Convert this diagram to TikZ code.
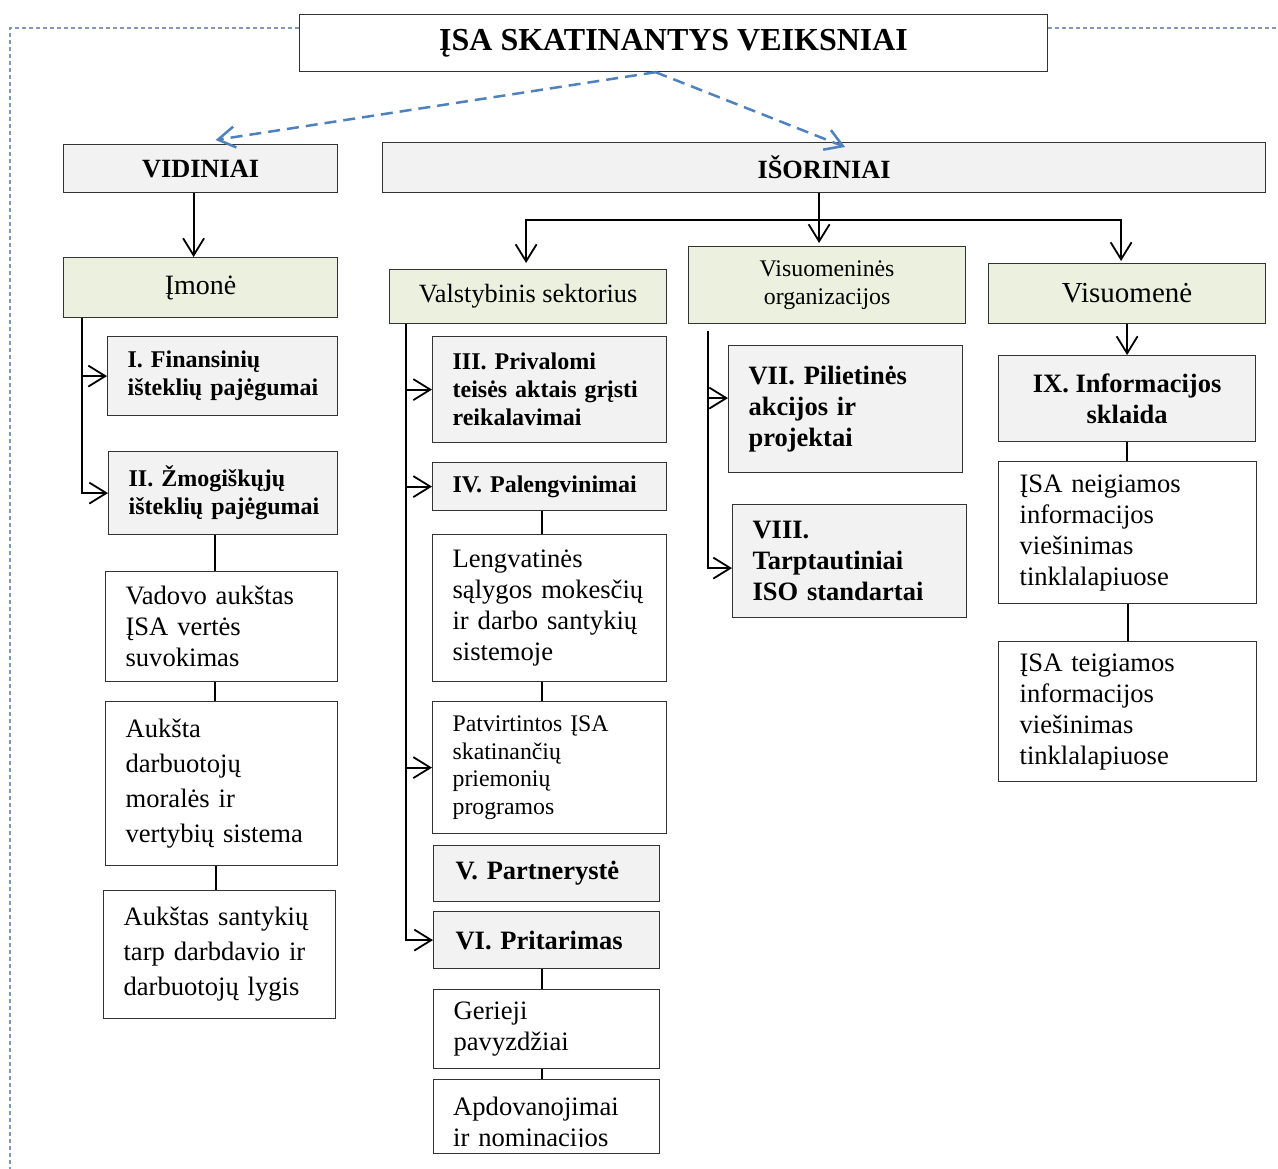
\documentclass[tikz,border=0pt]{standalone}
\usepackage{fontspec}
\setmainfont{Liberation Serif}
\usetikzlibrary{arrows.meta}

\definecolor{boxgrey}{HTML}{F2F2F2}
\definecolor{boxgreen}{HTML}{EBF1DE}
\definecolor{arrblue}{HTML}{4F81BD}
\definecolor{framecol}{HTML}{8497B9}

\hyphenpenalty=10000
\exhyphenpenalty=10000

\newcommand\titletxt{\fontsize{32pt}{36pt}\selectfont\bfseries}
\newcommand\headbold{\fontsize{26.3pt}{30pt}\selectfont\bfseries}
\newcommand\headreg{\fontsize{26.3pt}{30pt}\selectfont}
\newcommand\regtxt{\fontsize{26.6pt}{31pt}\selectfont}
\newcommand\regwide{\fontsize{26.6pt}{35pt}\selectfont}
\newcommand\regsmall{\fontsize{23.8pt}{27.5pt}\selectfont}
\newcommand\boldtxt{\fontsize{26.5pt}{31pt}\selectfont\bfseries}
\newcommand\boldsmall{\fontsize{24pt}{28pt}\selectfont\bfseries}

\tikzset{
box/.style={draw=black!80, line width=1.2pt, anchor=north west, inner ysep=0pt},
greybox/.style={box, fill=boxgrey},
greenbox/.style={box, fill=boxgreen},
whitebox/.style={box, fill=white},
lbox/.style={align=left, inner xsep=20pt},
cbox/.style={align=center, inner xsep=0pt},
link/.style={line width=1.8pt},
arr/.style={link, -{Straight Barb[length=17pt,width=21pt]}},
bluearr/.style={draw=arrblue, line width=2.5pt, dash pattern=on 12pt off 7pt,
  -{Straight Barb[length=17pt,width=21pt]}},
frame/.style={draw=framecol, line width=1.3pt, dash pattern=on 4pt off 3pt}}

\begin{document}
\begin{tikzpicture}[x=1pt,y=-1pt]
\useasboundingbox (0,0) rectangle (1278,1169);

% title and the two groups
\node[whitebox, cbox, minimum width=748pt, minimum height=57pt, font=\titletxt] (ttl) at (299,14) {ĮSA SKATINANTYS VEIKSNIAI};
\node[greybox, cbox, minimum width=274pt, minimum height=48pt, font=\headbold] (vid) at (63,144) {VIDINIAI};
\node[greybox, cbox, minimum width=883pt, minimum height=50pt, font=\headbold] (isor) at (382,142) {IŠORINIAI};

% vidiniai
\node[greenbox, cbox, minimum width=274pt, minimum height=60pt, font=\fontsize{28pt}{32pt}\selectfont] (imo) at (63,257) {Įmonė};
\node[greybox, lbox, text width=190pt, minimum height=79pt, font=\boldsmall] (fin) at (107,336) {I.~Finansinių\\išteklių~pajėgumai};
\node[greybox, lbox, text width=189pt, minimum height=83pt, font=\boldsmall] (zmog) at (108,451) {II.~Žmogiškųjų\\išteklių~pajėgumai};
\node[whitebox, lbox, text width=192pt, minimum height=110pt, font=\regtxt] (vad) at (105,571) {Vadovo~aukštas\\ĮSA~vertės\\suvokimas};
\node[whitebox, lbox, text width=192pt, minimum height=164pt, font=\regwide] (aukst) at (105,701) {Aukšta\\darbuotojų\\moralės~ir\\vertybių~sistema};
\node[whitebox, lbox, text width=192pt, minimum height=128pt, font=\regwide] (sant) at (103,890) {Aukštas~santykių\\tarp~darbdavio~ir\\darbuotojų~lygis};

% isoriniai
\node[greenbox, cbox, minimum width=277pt, minimum height=54pt, font=\headreg] (valst) at (389,269) {Valstybinis sektorius};
\node[greenbox, cbox, minimum width=277pt, minimum height=77pt, font=\regsmall] (visorg) at (688,246) {Visuomeninės\\organizacijos};
\node[greenbox, cbox, minimum width=277pt, minimum height=60pt, font=\fontsize{29pt}{33pt}\selectfont] (visuom) at (988,263) {Visuomenė};

\node[greybox, lbox, text width=194pt, minimum height=106pt, font=\boldsmall] (priv) at (432,336) {III.~Privalomi\\teisės~aktais~grįsti\\reikalavimai};
\node[greybox, lbox, text width=194pt, minimum height=48pt, font=\boldsmall] (pal) at (432,462) {IV.~Palengvinimai};
\node[whitebox, lbox, text width=194pt, minimum height=147pt, font=\regtxt] (leng) at (432,534) {Lengvatinės\\sąlygos~mokesčių\\ir~darbo~santykių\\sistemoje};
\node[whitebox, lbox, text width=194pt, minimum height=132pt, font=\regsmall] (patv) at (432,701) {Patvirtintos~ĮSA\\skatinančių\\priemonių\\programos};
\node[greybox, lbox, inner xsep=22pt, text width=182pt, minimum height=56pt, font=\boldtxt] (part) at (433,845) {V.~Partnerystė};
\node[greybox, lbox, inner xsep=22pt, text width=182pt, minimum height=57pt, font=\boldtxt] (prit) at (433,911) {VI.~Pritarimas};
\node[whitebox, lbox, text width=186pt, minimum height=79pt, font=\regtxt] (ger) at (433,989) {Gerieji\\pavyzdžiai};
\node[whitebox, lbox, text width=186pt, minimum height=74pt] (apd) at (433,1079) {};
\begin{scope}
  \clip (433,1079) rectangle (659,1146);
  \node[lbox, anchor=north west, inner ysep=0pt, text width=186pt, minimum height=90pt, font=\regtxt] (apdtxt) at (apd.north west) {Apdovanojimai\\ir~nominacijos};
\end{scope}

\node[greybox, lbox, text width=194pt, minimum height=127pt, font=\boldtxt] (pil) at (728,345) {VII.~Pilietinės\\akcijos~ir\\projektai};
\node[greybox, lbox, text width=194pt, minimum height=113pt, font=\boldtxt] (tarpt) at (732,504) {VIII.\\Tarptautiniai\\ISO~standartai};

\node[greybox, cbox, minimum width=257pt, minimum height=86pt, font=\boldtxt] (info) at (998,355) {IX. Informacijos\\sklaida};
\node[whitebox, lbox, inner xsep=21pt, text width=216pt, minimum height=142pt, font=\regtxt] (neig) at (998,461) {ĮSA~neigiamos\\informacijos\\viešinimas\\tinklalapiuose};
\node[whitebox, lbox, inner xsep=21pt, text width=216pt, minimum height=140pt, font=\regtxt] (teig) at (998,641) {ĮSA~teigiamos\\informacijos\\viešinimas\\tinklalapiuose};

% frame and dashed links
\coordinate (fl) at (10,28);
\draw[frame] (ttl.west |- fl) -- (fl) -- (10,1169);
\draw[frame] (ttl.east |- fl) -- (1278,28);
\draw[bluearr] ([xshift=-18pt]ttl.south) -- ([xshift=15pt,yshift=4pt]vid.north);
\draw[bluearr] ([xshift=-18pt]ttl.south) -- ([xshift=21pt,yshift=-5pt]isor.north);

% connectors, vidiniai
\draw[arr] ([xshift=-7pt]vid.south) -- ([xshift=-7pt]imo.north);
\coordinate (it) at ([xshift=19pt]imo.south west);
\draw[arr] (it) |- (fin.west);
\draw[arr] (it) |- (zmog.west);
\draw[link] ([xshift=-8pt]zmog.south) -- ([xshift=-8pt]zmog.south |- vad.north);
\draw[link] ([xshift=-7pt]vad.south) -- ([xshift=-7pt]aukst.north);
\draw[link] ([xshift=-6pt]aukst.south) -- ([xshift=-6pt]aukst.south |- sant.north);

% connectors, isoriniai
\coordinate (hub) at ([xshift=-5pt,yshift=-27pt]isor.south);
\draw[link] (hub |- isor.south) -- (hub);
\draw[arr, shorten >=3pt] (hub) -- (hub |- visorg.north);
\draw[arr, shorten >=6pt] (hub) -| ([xshift=-2pt]valst.north);
\draw[arr, shorten >=2pt] (hub) -| ([xshift=-6pt]visuom.north);

\coordinate (vs) at ([xshift=17pt]valst.south west);
\draw[arr] (vs) |- (priv.west);
\draw[arr] (vs) |- (pal.west);
\draw[arr] (vs) |- (patv.west);
\draw[arr] (vs) |- (prit.west);
\draw[link] ([xshift=-8pt]pal.south) -- ([xshift=-8pt]leng.north);
\draw[link] ([xshift=-8pt]leng.south) -- ([xshift=-8pt]patv.north);
\draw[link] ([xshift=-5pt]prit.south) -- ([xshift=-5pt]ger.north);
\draw[link] ([xshift=-5pt]ger.south) -- ([xshift=-5pt]apd.north);

\coordinate (vt) at ([xshift=20pt,yshift=-7pt]visorg.south west);
\draw[arr] (vt) |- ([yshift=11pt]pil.west);
\draw[arr] (vt) |- ([yshift=-7pt]tarpt.west);

\draw[arr] (visuom.south) -- (info.north);
\draw[link] (info.south) -- (info.south |- neig.north);
\draw[link] (neig.south) -- (neig.south |- teig.north);
\end{tikzpicture}
\end{document}
